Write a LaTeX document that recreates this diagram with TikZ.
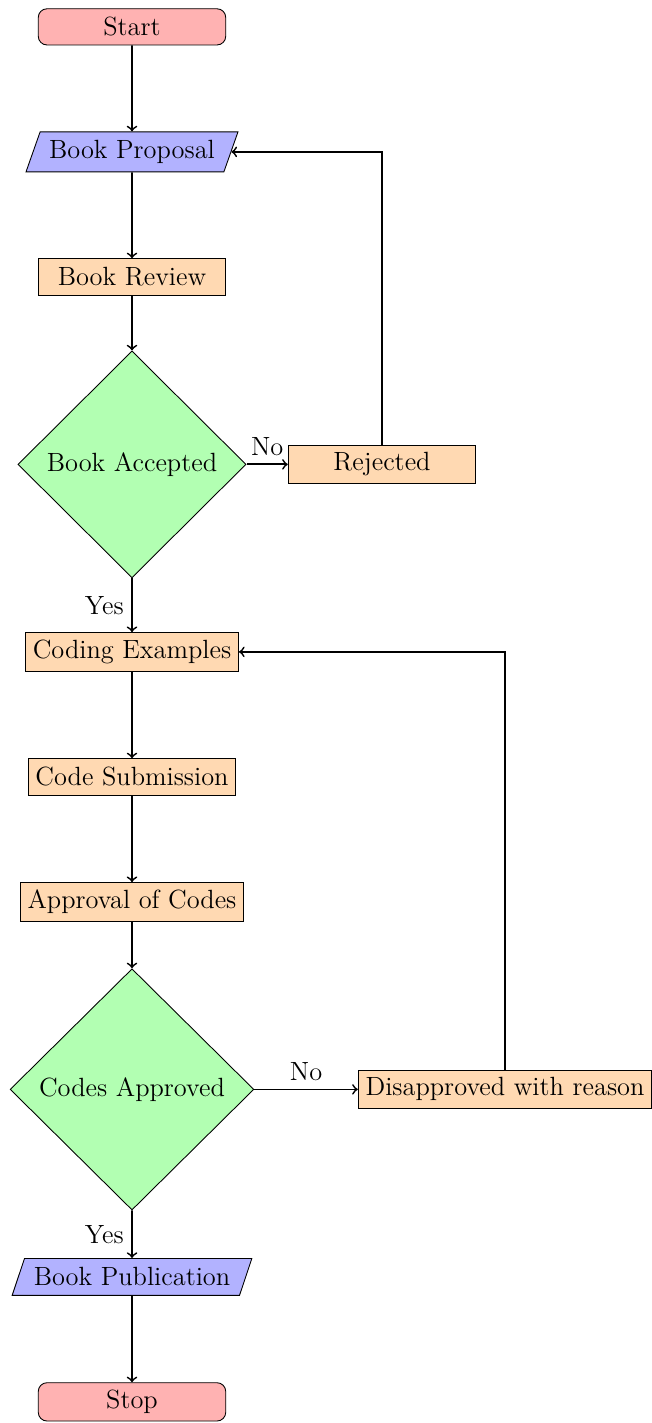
\documentclass[tikz,border=0pt]{standalone}
\usetikzlibrary{shapes.geometric}
\begin{document}
\begin{tikzpicture}[font=\fontsize{12}{14.4}\selectfont,
  startstop/.style={rectangle, rounded corners, minimum width=3cm, minimum height=0.58cm, align=center, draw=black, fill=red!30},
  io/.style={trapezium, trapezium left angle=70, trapezium right angle=110, trapezium stretches=true, minimum width=3cm, minimum height=0.6cm, align=center, draw=black, fill=blue!30},
  process/.style={rectangle, minimum width=3cm, minimum height=0.58cm, align=center, draw=black, fill=orange!30},
  decision/.style={diamond, aspect=1, align=center, draw=black, fill=green!30},
  arrow/.style={thick,->}]
\useasboundingbox (0,0) rectangle (10.416,-22.768);
\node[startstop] (start) at (2.112,-0.43) {Start};
\node[io, minimum width=3.41cm, minimum height=0.64cm] (prop) at (2.112,-2.43) {Book Proposal};
\node[process] (rev) at (2.112,-4.43) {Book Review};
\node[decision, minimum width=3.65cm, minimum height=3.63cm] (acc) at (2.112,-7.43) {Book Accepted};
\node[process] (rej) at (6.112,-7.43) {Rejected};
\node[process] (code) at (2.112,-10.43) {Coding Examples};
\node[process] (sub) at (2.112,-12.43) {Code Submission};
\node[process] (appr) at (2.112,-14.43) {Approval of Codes};
\node[decision, minimum width=3.9cm, minimum height=3.86cm] (capp) at (2.112,-17.43) {Codes Approved};
\node[process] (dis) at (8.08,-17.43) {Disapproved with reason};
\node[io, minimum width=3.84cm, minimum height=0.59cm] (pub) at (2.112,-20.43) {Book Publication};
\node[startstop] (stop) at (2.112,-22.43) {Stop};
\draw[arrow] (start) -- (prop);
\draw[arrow] (prop) -- (rev);
\draw[arrow] (rev) -- (acc);
\draw[arrow] (acc) -- node[midway, above] {No} (rej);
\draw[arrow] (acc) -- node[midway, left] {Yes} (code);
\draw[arrow] (rej.north) |- (prop.east);
\draw[arrow] (code) -- (sub);
\draw[arrow] (sub) -- (appr);
\draw[arrow] (appr) -- (capp);
\draw[arrow] (capp) -- node[midway, above] {No} (dis);
\draw[arrow] (capp) -- node[midway, left] {Yes} (pub);
\draw[arrow] (dis.north) |- (code.east);
\draw[arrow] (pub) -- (stop);
\end{tikzpicture}
\end{document}
